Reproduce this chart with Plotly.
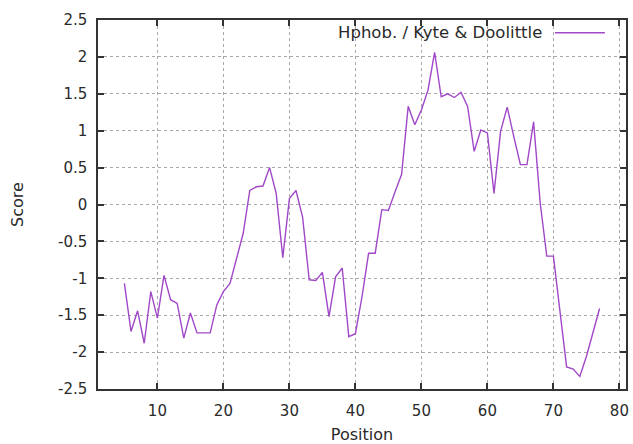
import plotly.graph_objects as go

positions = list(range(5, 78))
scores = [-1.07, -1.72, -1.44, -1.88, -1.18, -1.54, -0.96, -1.29, -1.34, -1.81,
          -1.47, -1.74, -1.74, -1.74, -1.36, -1.18, -1.07, -0.71, -0.39, 0.19,
          0.24, 0.25, 0.50, 0.15, -0.72, 0.08, 0.19, -0.17, -1.02, -1.03,
          -0.92, -1.52, -0.98, -0.86, -1.79, -1.75, -1.25, -0.66, -0.66, -0.07,
          -0.08, 0.17, 0.41, 1.33, 1.08, 1.28, 1.55, 2.06, 1.46, 1.50,
          1.45, 1.52, 1.33, 0.72, 1.01, 0.97, 0.15, 0.99, 1.32, 0.92,
          0.54, 0.54, 1.12, 0.02, -0.70, -0.70, -1.45, -2.20, -2.23, -2.33,
          -2.06, -1.75, -1.41]

x_ticks = [10, 20, 30, 40, 50, 60, 70, 80]
y_ticks = [-2.5, -2, -1.5, -1, -0.5, 0, 0.5, 1, 1.5, 2, 2.5]
y_tick_text = ["-2.5", "-2", "-1.5", "-1", "-0.5", "0", "0.5", "1", "1.5", "2", "2.5"]
series_name = "Hphob. / Kyte & Doolittle"
line_color = "#a048c8"
font_family = "DejaVu Sans"
text_color = "#2a2a2a"

fig = go.Figure()
fig.add_trace(go.Scatter(x=positions, y=scores, mode="lines",
                         line=dict(color=line_color, width=1.4),
                         name=series_name, showlegend=False))

axis_common = dict(showline=True, linecolor="#333333", linewidth=1.5, mirror="ticks",
                   ticks="inside", ticklen=6, tickcolor="#333333", tickwidth=1.5,
                   showgrid=True, gridcolor="#a8a8a8", griddash="dot", gridwidth=1,
                   zeroline=False, automargin=False,
                   tickfont=dict(family=font_family, size=15, color=text_color))

fig.update_xaxes(range=[1, 81], tickvals=x_ticks, ticklabelstandoff=7,
                 title=dict(text="Position", font=dict(family=font_family, size=16, color=text_color),
                            standoff=13),
                 **axis_common)
fig.update_yaxes(range=[-2.5, 2.5], tickvals=y_ticks, ticktext=y_tick_text, ticklabelstandoff=6,
                 title=dict(text="Score", font=dict(family=font_family, size=16, color=text_color),
                            standoff=30),
                 **axis_common)

# legend (text with sample line on the right, gnuplot style)
fig.add_annotation(xref="paper", yref="paper", x=0.845, y=0.9656, xanchor="right", yanchor="middle",
                   text=series_name, showarrow=False,
                   font=dict(family=font_family, size=16.5, color=text_color))
fig.add_shape(type="line", xref="paper", yref="paper", x0=0.8655, x1=0.960, y0=0.9656, y1=0.9656,
              line=dict(color=line_color, width=1.4))

fig.update_layout(width=633, height=444, margin=dict(l=98, r=7, t=20, b=55),
                  plot_bgcolor="white", paper_bgcolor="white", showlegend=False)

fig.write_html("out.html", config={"displayModeBar": False},
               post_script="document.body.style.margin='0';document.body.style.padding='0';")
